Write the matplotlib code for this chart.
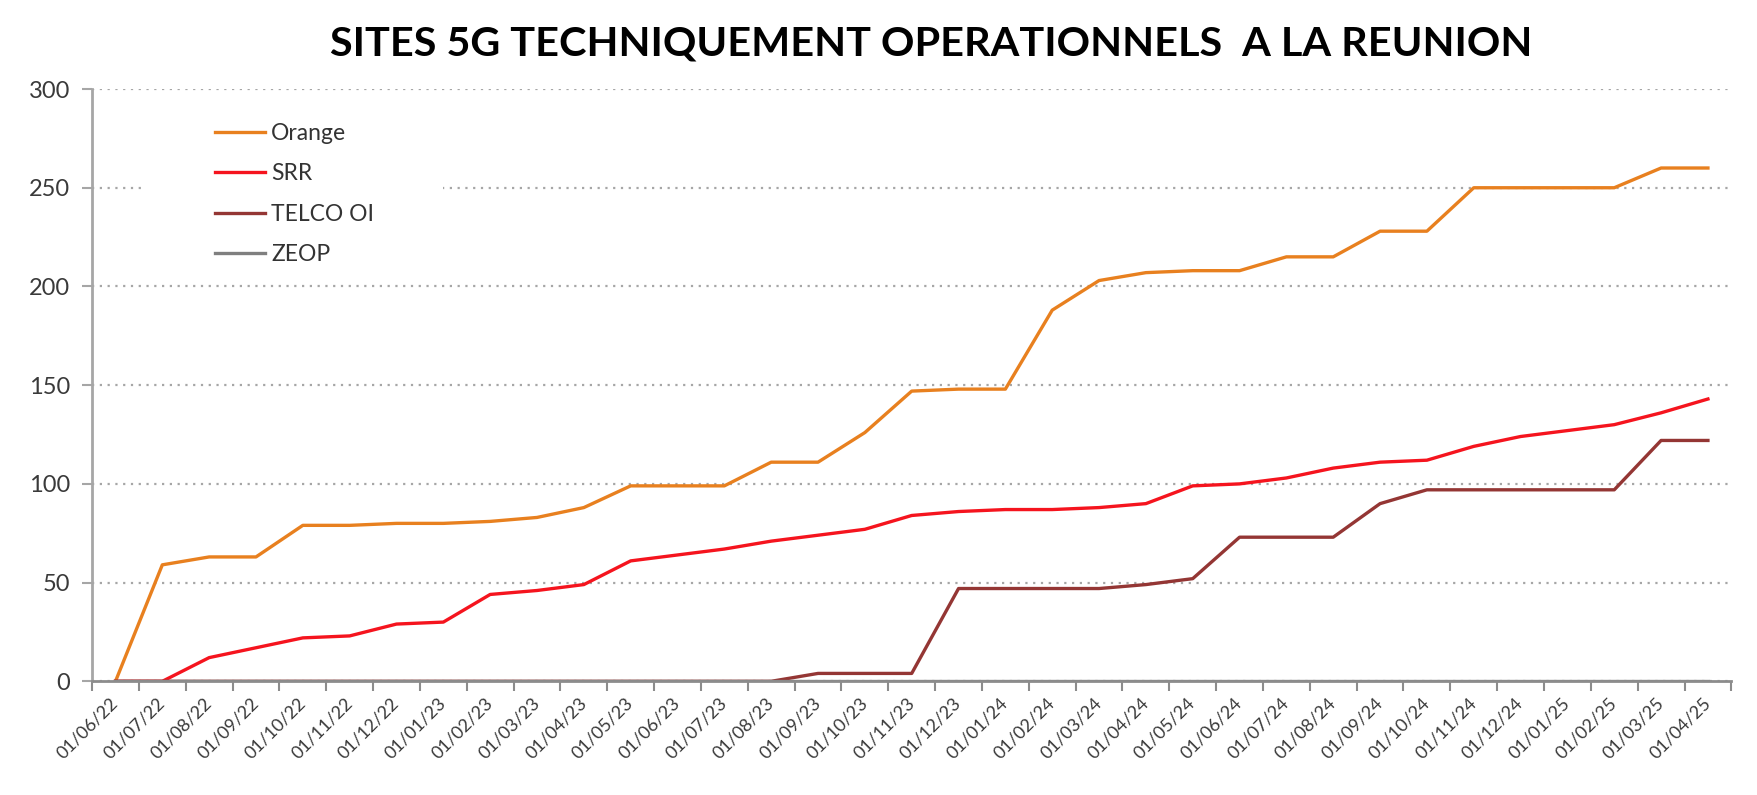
import numpy as np
import matplotlib
matplotlib.use('Agg')
import matplotlib.pyplot as plt
from matplotlib.ticker import FixedLocator
from matplotlib.patches import Rectangle

plt.rcParams['font.family'] = ['Lato', 'DejaVu Sans']

# dates des relevés (premier du mois)
dates = ['01/06/22', '01/07/22', '01/08/22', '01/09/22', '01/10/22', '01/11/22', '01/12/22',
         '01/01/23', '01/02/23', '01/03/23', '01/04/23', '01/05/23', '01/06/23', '01/07/23',
         '01/08/23', '01/09/23', '01/10/23', '01/11/23', '01/12/23', '01/01/24', '01/02/24',
         '01/03/24', '01/04/24', '01/05/24', '01/06/24', '01/07/24', '01/08/24', '01/09/24',
         '01/10/24', '01/11/24', '01/12/24', '01/01/25', '01/02/25', '01/03/25', '01/04/25']

orange = [0, 59, 63, 63, 79, 79, 80, 80, 81, 83, 88, 99, 99, 99, 111, 111, 126, 147, 148, 148,
          188, 203, 207, 208, 208, 215, 215, 228, 228, 250, 250, 250, 250, 260, 260]
srr = [0, 0, 12, 17, 22, 23, 29, 30, 44, 46, 49, 61, 64, 67, 71, 74, 77, 84, 86, 87,
       87, 88, 90, 99, 100, 103, 108, 111, 112, 119, 124, 127, 130, 136, 143]
telco = [0, 0, 0, 0, 0, 0, 0, 0, 0, 0, 0, 0, 0, 0, 0, 4, 4, 4, 47, 47,
         47, 47, 49, 52, 73, 73, 73, 90, 97, 97, 97, 97, 97, 122, 122]
zeop = [0] * 35

fig = plt.figure(figsize=(17.57, 7.95), dpi=100)
ax = fig.add_axes([0.0524, 0.143, 0.933, 0.745])

x = np.arange(len(dates))
ax.plot(x, orange, color='#E8801F', lw=2.4, label='Orange', zorder=2)
ax.plot(x, srr, color='#F5141E', lw=2.4, label='SRR', zorder=2)
ax.plot(x, telco, color='#943634', lw=2.4, label='TELCO OI', zorder=2)
ax.plot(x, zeop, color='#7F7F7F', lw=2.4, label='ZEOP', zorder=2)

ax.set_xlim(-0.5, len(dates) - 0.5)
ax.set_ylim(0, 300)
ax.set_yticks(range(0, 301, 50))
ax.yaxis.grid(True, linestyle=(0, (1, 2.5)), color='#A6A6A6', lw=1.6)
ax.set_axisbelow(True)

ax.set_xticks(x)
ax.set_xticklabels(dates, rotation=45, ha='right', va='center', rotation_mode='anchor',
                   fontsize=13, color='#3A3A3A')
ax.xaxis.set_minor_locator(FixedLocator(np.arange(-0.5, len(dates), 1)))
ax.tick_params(axis='x', which='major', length=0, pad=14)
ax.tick_params(axis='x', which='minor', length=7, width=1.5, color='#8C8C8C')
ax.tick_params(axis='y', length=7, width=1.5, color='#A6A6A6', labelsize=17,
               labelcolor='#3A3A3A', pad=9)

for s in ['top', 'right']:
    ax.spines[s].set_visible(False)
ax.spines['left'].set_color('#A6A6A6')
ax.spines['left'].set_linewidth(2)
ax.spines['bottom'].set_color('#8C8C8C')
ax.spines['bottom'].set_linewidth(2)

# fond blanc derrière la légende (cache la grille)
ax.add_patch(Rectangle((0.031, 0.691), 0.183, 0.27, transform=ax.transAxes,
                       facecolor='white', edgecolor='none', zorder=1))

leg = ax.legend(loc='upper left', bbox_to_anchor=(0.068, 0.962), frameon=False,
                fontsize=16.5, handlelength=2.2, handletextpad=0.25, labelspacing=0.85,
                borderpad=0)
for t in leg.get_texts():
    t.set_color('#333333')

fig.text(0.530, 0.945, 'SITES 5G TECHNIQUEMENT OPERATIONNELS  A LA REUNION',
         ha='center', va='center', fontsize=29.8, fontweight='bold', color='black')

fig.savefig('out.png', dpi=100, facecolor='white')
